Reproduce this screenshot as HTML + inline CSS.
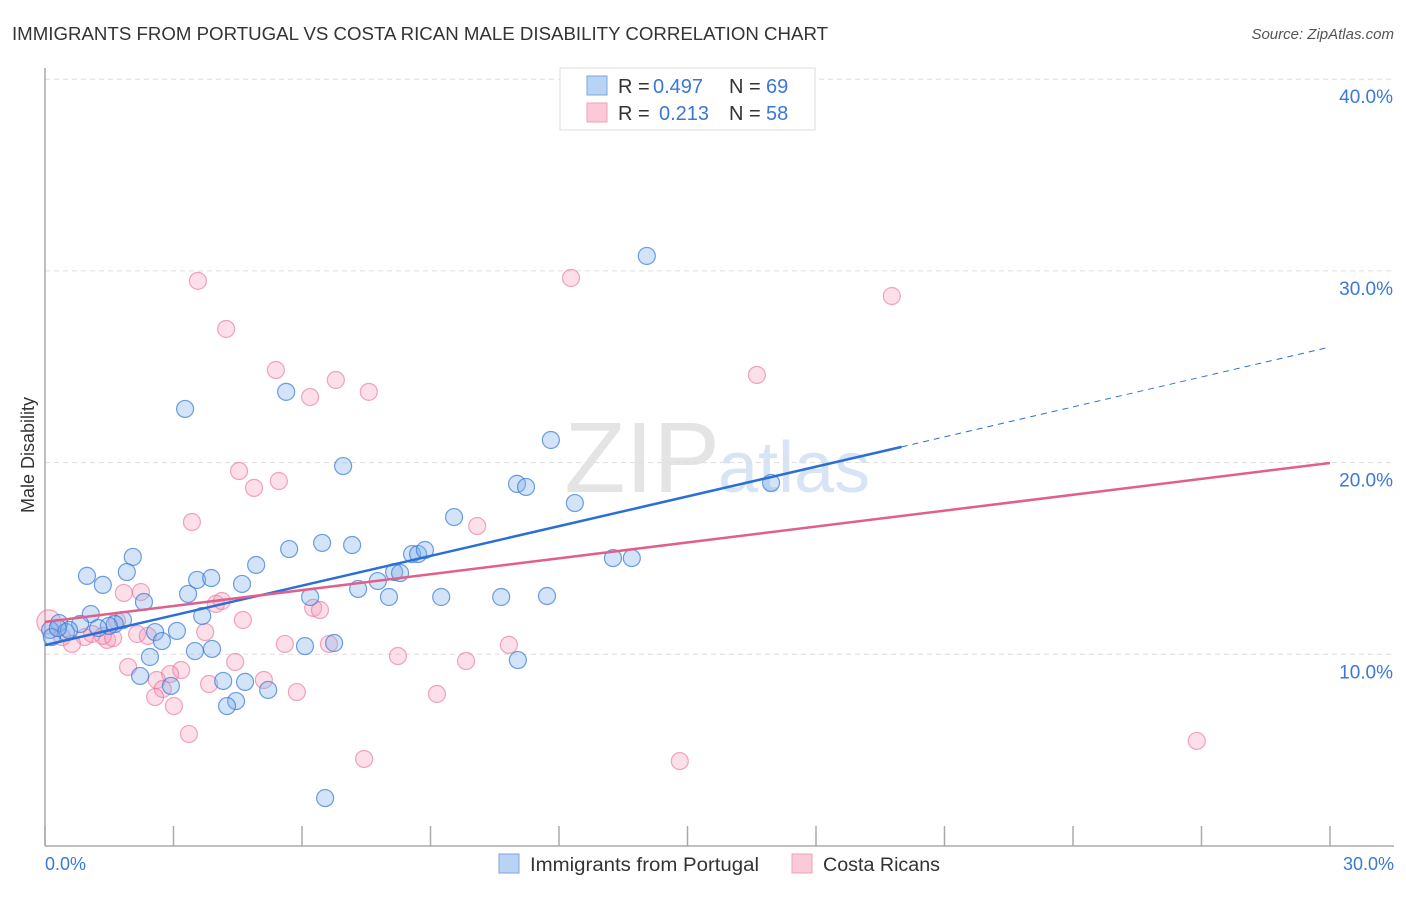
<!DOCTYPE html>
<html><head><meta charset="utf-8"><style>
body{margin:0;background:#fff;font-family:"Liberation Sans",sans-serif;}
svg text{font-family:"Liberation Sans",sans-serif;}
</style></head><body>
<svg id="chart" width="1406" height="892" xmlns="http://www.w3.org/2000/svg">
<text x="12" y="40" font-size="18" fill="#333" textLength="816" lengthAdjust="spacingAndGlyphs">IMMIGRANTS FROM PORTUGAL VS COSTA RICAN MALE DISABILITY CORRELATION CHART</text>
<text x="1394" y="39" font-size="15" fill="#555" font-style="italic" text-anchor="end">Source: ZipAtlas.com</text>
<text x="720" y="492" font-size="100" fill="#e4e4e4" text-anchor="end" font-family="Liberation Serif">ZIP</text>
<text x="718" y="492" font-size="72" fill="#d6e4f5">atlas</text>
<g id="grid"></g><g id="axes"></g><g id="pts"></g><g id="trends"></g>
<text x="34" y="455" font-size="18" fill="#333" transform="rotate(-90 34 455)" text-anchor="middle">Male Disability</text>
<text x="45" y="870" font-size="18" fill="#3a78d8">0.0%</text>
<text x="1394" y="870" font-size="18" fill="#3a78d8" text-anchor="end">30.0%</text>
<g>
<rect x="560" y="68" width="255" height="62" fill="#fff" stroke="#ddd"/>
<rect x="587" y="76" width="20" height="19" fill="#b9d3f5" stroke="#7aa7e0"/>
<rect x="587" y="103" width="20" height="19" fill="#fbc9d8" stroke="#f0a0b8"/>
<text x="618" y="93" font-size="20" fill="#333">R =</text>
<text x="653" y="93" font-size="20" fill="#3a78d8">0.497</text>
<text x="729" y="93" font-size="20" fill="#333">N =</text>
<text x="766" y="93" font-size="20" fill="#3a78d8">69</text>
<text x="618" y="120" font-size="20" fill="#333">R =</text>
<text x="659" y="120" font-size="20" fill="#3a78d8">0.213</text>
<text x="729" y="120" font-size="20" fill="#333">N =</text>
<text x="766" y="120" font-size="20" fill="#3a78d8">58</text>
</g>
<g>
<rect x="499" y="854" width="20" height="19" fill="#b9d3f5" stroke="#7aa7e0"/>
<text x="530" y="871" font-size="19" fill="#333" textLength="229" lengthAdjust="spacingAndGlyphs">Immigrants from Portugal</text>
<rect x="792" y="854" width="20" height="19" fill="#fbc9d8" stroke="#f0a0b8"/>
<text x="823" y="871" font-size="19" fill="#333" textLength="117" lengthAdjust="spacingAndGlyphs">Costa Ricans</text>
</g>
</svg>
<script>
const yTicks=[10,20,30,40];
const yTickLabels=["10.0%","20.0%","30.0%","40.0%"];
const blueX=[14.05,3.27,5.63,6.96,11.81,11.02,11.23,12.37,16.95,9.55,5.70,6.47,7.17,8.57,8.71,8.87,13.26,13.70,2.05,0.98,1.91,1.35,3.55,3.88,4.60,4.93,7.77,8.15,8.29,7.31,3.34,6.19,8.03,9.25,10.65,11.72,2.31,1.07,3.67,1.82,1.63,1.49,0.82,0.33,0.12,0.49,2.57,3.08,0.16,2.73,6.07,6.75,3.50,3.90,2.45,11.04,2.22,2.94,4.16,4.67,5.21,4.46,4.25,6.54,0.56,1.24,0.30];
const blueY=[30.78,22.80,23.69,19.82,21.18,18.89,18.73,17.89,18.94,17.16,15.49,15.81,15.70,15.23,15.23,15.44,15.02,15.02,15.08,14.09,14.29,13.62,13.88,13.98,13.67,14.66,13.82,14.29,14.24,13.41,13.15,12.99,12.99,12.99,12.99,13.04,12.73,12.10,12.00,11.79,11.58,11.48,11.58,11.63,11.27,11.16,11.16,11.22,10.90,10.69,10.43,10.59,10.17,10.28,9.86,9.70,8.87,8.35,8.61,8.56,8.14,7.56,7.30,2.50,11.27,11.37,11.37];
const pinkX=[12.28,19.77,3.57,4.23,5.39,6.79,6.19,7.56,16.62,4.53,5.46,4.88,3.43,10.09,2.24,1.84,3.99,4.13,6.26,6.42,4.62,1.68,2.15,2.40,3.74,1.10,1.45,0.93,0.63,0.40,0.09,5.60,6.63,10.83,8.24,9.83,1.94,3.18,4.44,2.92,2.61,5.11,3.83,2.75,5.88,9.15,2.57,3.01,3.36,7.45,14.82,26.89,1.35,1.59];
const pinkY=[29.63,28.69,29.48,26.97,24.83,24.31,23.42,23.69,24.57,19.56,19.04,18.68,16.90,16.69,13.25,13.20,12.63,12.78,12.42,12.31,11.79,11.74,11.06,10.96,11.16,11.06,10.75,10.90,10.54,10.90,11.69,10.54,10.54,10.49,9.91,9.65,9.34,9.18,9.60,8.97,8.66,8.66,8.45,8.19,8.03,7.93,7.77,7.30,5.84,4.54,4.43,5.48,10.96,10.85];
const blueTrendX=[0,20,30];
const blueTrendY=[10.48,20.82,26.03];
const pinkTrendX=[0,30];
const pinkTrendY=[11.69,19.98];
const xTicks=[0,3,6,9,12,15,18,21,24,27,30];
const NS="http://www.w3.org/2000/svg";
const xs=v=>45+v*1285/30, ys=v=>846-v*19.17;
function mk(tag,attrs,parent){const e=document.createElementNS(NS,tag);for(const k in attrs)e.setAttribute(k,attrs[k]);document.getElementById(parent).appendChild(e);return e;}
yTicks.forEach((t,i)=>{
 const l=mk('line',{x1:45,x2:1394,y1:ys(t),y2:ys(t),stroke:'#ddd','stroke-dasharray':'5,4'},'grid');
 
 
 const tx=mk('text',{x:1393,y:ys(t)+24,'font-size':19,fill:'#3a78d8','text-anchor':'end'},'grid');
 tx.textContent=yTickLabels[i];
 
 
});
let a=mk('line',{x1:45,x2:45,y1:68,y2:846,stroke:'#aaa','stroke-width':1.5},'axes');


a=mk('line',{x1:45,x2:1394,y1:846,y2:846,stroke:'#aaa','stroke-width':1.5},'axes');


xTicks.forEach(t=>{const l=mk('line',{x1:xs(t),x2:xs(t),y1:826,y2:846,stroke:'#aaa','stroke-width':1.5},'axes');
 
 });
pinkX.forEach((x,i)=>{const c=mk('circle',{cx:xs(x),cy:ys(pinkY[i]),r:(i==30?12:8.5),fill:'rgba(244,150,180,0.3)',stroke:'rgba(232,110,150,0.6)','stroke-width':1.2},'pts');
 
 });
blueX.forEach((x,i)=>{const c=mk('circle',{cx:xs(x),cy:ys(blueY[i]),r:8.5,fill:'rgba(130,175,235,0.35)',stroke:'rgba(50,120,215,0.7)','stroke-width':1.2},'pts');
 
 });
let t=mk('line',{x1:xs(blueTrendX[0]),y1:ys(blueTrendY[0]),x2:xs(blueTrendX[1]),y2:ys(blueTrendY[1]),stroke:'#2a6fd6','stroke-width':2.5},'trends');


t=mk('line',{x1:xs(blueTrendX[1]),y1:ys(blueTrendY[1]),x2:xs(blueTrendX[2]),y2:ys(blueTrendY[2]),stroke:'#2a6fd6','stroke-width':1,'stroke-dasharray':'6,5'},'trends');


t=mk('line',{x1:xs(pinkTrendX[0]),y1:ys(pinkTrendY[0]),x2:xs(pinkTrendX[1]),y2:ys(pinkTrendY[1]),stroke:'#e0608a','stroke-width':2.5},'trends');


</script>
</body></html>
